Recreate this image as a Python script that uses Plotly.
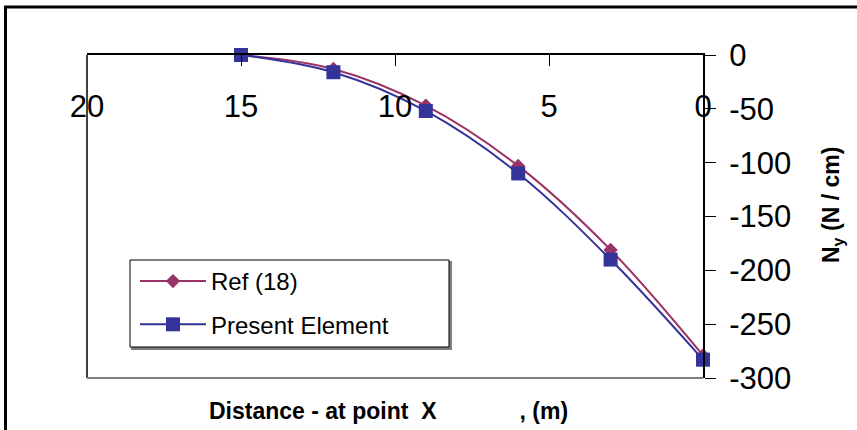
import plotly.graph_objects as go

# Membrane force N_y along the element, two solutions
distance_m = [15, 12, 9, 6, 3, 0]
ref_18 = [0, -13, -47, -103, -181, -279]
present_element = [0, -16, -52, -110, -190, -283]

x_ticks = [20, 15, 10, 5, 0]
y_ticks = [0, -50, -100, -150, -200, -250, -300]

FONT = "Liberation Sans, Arial, sans-serif"
W, H = 857, 430
L, R, T, B = 87, 154, 55, 52
PW, PH = W - L - R, H - T - B


def px(x):
    return (x - L) / PW


def py(y):
    return (H - B - y) / PH


fig = go.Figure()
fig.add_trace(go.Scatter(
    x=distance_m, y=ref_18, name="Ref (18)", mode="lines+markers",
    line=dict(color="#993366", width=2, shape="spline", smoothing=1),
    marker=dict(symbol="diamond", size=11, color="#993366"),
    cliponaxis=False, legendgroup="a",
))
fig.add_trace(go.Scatter(
    x=distance_m, y=present_element, name="Present Element", mode="lines+markers",
    line=dict(color="#333399", width=2, shape="spline", smoothing=1),
    marker=dict(symbol="square", size=14, color="#333399"),
    cliponaxis=False, legendgroup="b",
))

fig.update_layout(
    width=W, height=H,
    margin=dict(l=L, r=R, t=T, b=B),
    paper_bgcolor="white", plot_bgcolor="white",
    font=dict(family=FONT, color="black"),
    showlegend=True,
    legend=dict(
        x=px(135), y=py(259), xanchor="left", yanchor="top",
        bgcolor="rgba(0,0,0,0)", borderwidth=0,
        font=dict(size=24, family=FONT, color="black"),
        traceorder="grouped", tracegroupgap=9, itemwidth=66,
    ),
    xaxis=dict(
        range=[20, 0], side="top", showgrid=False, zeroline=False,
        showline=True, linecolor="black", linewidth=1.5,
        ticks="inside", ticklen=11, tickcolor="black", tickwidth=1,
        tickvals=x_ticks, ticktext=[str(v) for v in x_ticks],
        tickfont=dict(size=31, family=FONT, color="black"),
        ticklabelstandoff=-76,
    ),
    yaxis=dict(
        range=[-300, 0], side="right", showgrid=False, zeroline=False,
        showline=True, linecolor="black", linewidth=2,
        ticks="outside", ticklen=11, tickcolor="black", tickwidth=1,
        tickvals=y_ticks, ticktext=[str(v) for v in y_ticks],
        tickfont=dict(size=31, family=FONT, color="black"),
        ticklabelstandoff=7,
    ),
    shapes=[
        # chart frame
        dict(type="rect", xref="paper", yref="paper",
             x0=px(5.5), x1=px(900), y0=py(460), y1=py(7),
             line=dict(color="black", width=3), fillcolor="rgba(0,0,0,0)"),
        # plot-area border (left and bottom)
        dict(type="line", xref="paper", yref="paper", x0=0, x1=0, y0=0, y1=1,
             line=dict(color="black", width=1.5)),
        dict(type="line", xref="paper", yref="paper", x0=0, x1=1, y0=0, y1=0,
             line=dict(color="#808080", width=2)),
        # legend box with shadow
        dict(type="rect", xref="paper", yref="paper",
             x0=px(132), x1=px(451), y0=py(349), y1=py(262),
             line=dict(color="#808080", width=2), fillcolor="#808080", layer="below"),
        dict(type="rect", xref="paper", yref="paper",
             x0=px(130), x1=px(449), y0=py(347), y1=py(260),
             line=dict(color="black", width=1), fillcolor="white", layer="below"),
    ],
    annotations=[
        dict(text="<b>Distance - at point  X" + "\u00a0" * 13 + ", (m)</b>",
             xref="paper", yref="paper", x=px(388), y=py(411),
             xanchor="center", yanchor="middle", showarrow=False,
             font=dict(size=23, family=FONT, color="black")),
        dict(text="<b>N<sub>y</sub> (N / cm)</b>", textangle=-90,
             xref="paper", yref="paper", x=px(832), y=py(205),
             xanchor="center", yanchor="middle", showarrow=False,
             font=dict(size=23, family=FONT, color="black")),
    ],
)

fig.write_html("out.html")
